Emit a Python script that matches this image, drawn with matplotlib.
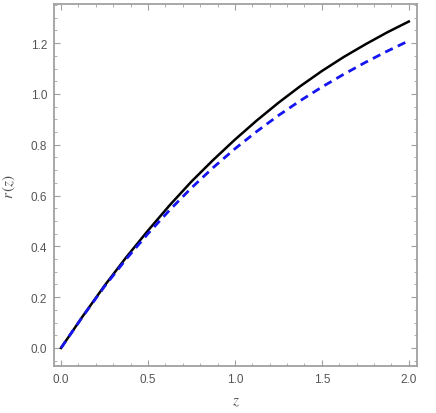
import matplotlib
matplotlib.use("Agg")
import matplotlib.pyplot as plt
from matplotlib.ticker import MultipleLocator

# values
z = [0.0, 0.125, 0.25, 0.375, 0.5, 0.625, 0.75, 0.875, 1.0,
     1.125, 1.25, 1.375, 1.5, 1.625, 1.75, 1.875, 2.0]
r_black = [0.0, 0.125, 0.245, 0.357, 0.462, 0.562, 0.655, 0.740, 0.820,
           0.895, 0.965, 1.030, 1.090, 1.145, 1.195, 1.242, 1.285]
r_blue = [0.0, 0.124, 0.242, 0.350, 0.450, 0.543, 0.630, 0.710, 0.784,
          0.852, 0.915, 0.973, 1.027, 1.077, 1.124, 1.168, 1.209]

plt.rcParams['mathtext.fontset'] = 'stix'

fig = plt.figure(figsize=(4.36, 4.14), dpi=100)
ax = fig.add_axes([0.124, 0.1135, 0.832, 0.8745])

ax.plot(z, r_black, color='black', lw=1.8)
ax.plot(z, r_blue, color='#1515f0', lw=2.0, dashes=(3, 2))

ax.set_xlim(-0.04, 2.046)
ax.set_ylim(-0.071, 1.354)

frame = '#a0a0a0'
for s in ax.spines.values():
    s.set_color(frame)
    s.set_linewidth(1.3)

ax.xaxis.set_major_locator(MultipleLocator(0.5))
ax.xaxis.set_minor_locator(MultipleLocator(0.1))
ax.yaxis.set_major_locator(MultipleLocator(0.2))
ax.yaxis.set_minor_locator(MultipleLocator(0.05))
ax.xaxis.set_major_formatter(plt.FormatStrFormatter('%.1f'))
ax.yaxis.set_major_formatter(plt.FormatStrFormatter('%.1f'))
ax.tick_params(which='both', direction='in', top=True, right=True,
               color=frame, labelcolor='#555555', labelsize=8.5)
ax.tick_params(which='major', length=4, width=0.8, pad=5)
ax.tick_params(which='minor', length=2, width=0.6)
for lab in ax.get_xticklabels() + ax.get_yticklabels():
    lab.set_family('Liberation Sans')

ax.set_xlabel('$z$', fontsize=11, color='#555555', labelpad=6)
ax.set_ylabel('$r\\,(z)$', fontsize=11, color='#555555', labelpad=9)

fig.savefig('out.png', dpi=100)
